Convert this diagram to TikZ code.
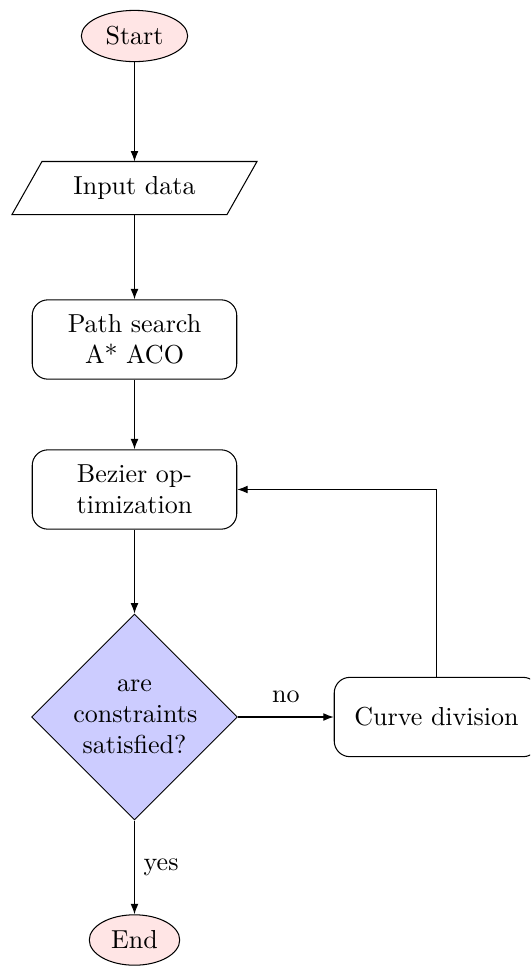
\documentclass[tikz,border=0pt]{standalone}
\usetikzlibrary{shapes.geometric,arrows.meta}

\tikzset{
  terminal/.style={ellipse, draw, fill=red!10, inner sep=0.333em},
  block/.style={rectangle, draw, rounded corners=6pt, text width=72pt, align=center,
                minimum width=78.5pt, minimum height=30.5pt, inner sep=3.33pt},
  decision/.style={diamond, draw, fill=blue!20, text width=47pt, align=center,
                   minimum width=79.2pt, minimum height=79.2pt, aspect=1, inner sep=0pt},
  iobody/.style={rectangle, minimum width=82.3pt, minimum height=20pt, inner sep=0pt},
  flow/.style={draw, -{Latex[length=4pt,width=3pt]}},
}

\begin{document}
\begin{tikzpicture}[x=0.3846pt, y=-0.3846pt]
  \useasboundingbox (0,0) rectangle (530,967);
  \clip (0,0) rectangle (530,967);

  % nodes
  \node[terminal] (start) at (134.5,36) {Start};
  \node[iobody] (input) at (134.5,188) {Input data};
  \node[block] (path) at (134.5,339.5) {Path search\\A* ACO};
  \node[block] (bezier) at (134.5,489.5) {Bezier optimization};
  \node[decision] (decide) at (134.5,717) {are\\constraints\\satisfied?};
  \node[block] (curve) at (436.5,717) {Curve division};
  \node[terminal] (end) at (134.5,940) {End};

  % parallelogram outline of the input node
  \draw ([xshift=-15*0.3846pt]input.south west) -- ([xshift=-15*0.3846pt]input.south east)
        -- ([xshift=15*0.3846pt]input.north east) -- ([xshift=15*0.3846pt]input.north west) -- cycle;

  % connectors
  \path[flow] (start) -- (input);
  \path[flow] (input) -- (path);
  \path[flow] (path) -- (bezier);
  \path[flow] (bezier) -- (decide);
  \path[flow] (decide) -- node[above=2pt] {no} (curve);
  \path[flow] (decide) -- node[right] {yes} (end);
  \path[flow] (curve) |- (bezier);
\end{tikzpicture}
\end{document}
